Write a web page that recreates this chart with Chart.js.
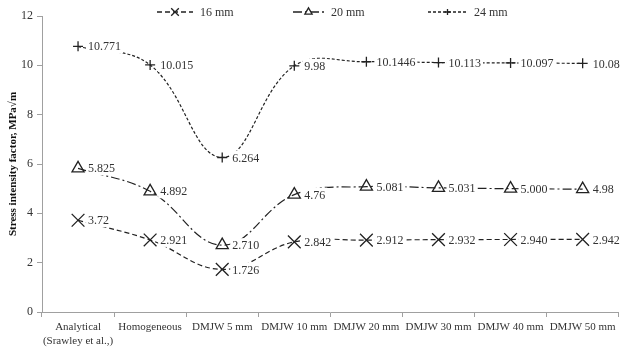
<!DOCTYPE html>
<html lang="en">
<head>
<meta charset="UTF-8">
<title>Stress intensity factor</title>
<style>
  html, body { margin: 0; padding: 0; background: #fff; }
  #wrap { width: 629px; height: 350px; }
</style>
</head>
<body>
<div id="wrap"><canvas id="chart" width="629" height="350"></canvas></div>

<script src="https://cdn.jsdelivr.net/npm/chart.js@4.4.7/dist/chart.umd.min.js"></script>
<script>
// categories and values (strings keep the printed label format)
const categories = [
    ['Analytical', '(Srawley et al.,)'], 'Homogeneous', 'DMJW 5 mm', 'DMJW 10 mm',
    'DMJW 20 mm', 'DMJW 30 mm', 'DMJW 40 mm', 'DMJW 50 mm'
];
const k16 = ['3.72', '2.921', '1.726', '2.842', '2.912', '2.932', '2.940', '2.942'];
const k20 = ['5.825', '4.892', '2.710', '4.76', '5.081', '5.031', '5.000', '4.98'];
const k24 = ['10.771', '10.015', '6.264', '9.98', '10.1446', '10.113', '10.097', '10.08'];
const seriesNames = ['16 mm', '20 mm', '24 mm'];
const yTicks = [0, 2, 4, 6, 8, 10, 12];

const FONT = 'Liberation Serif, Times New Roman, serif';
const TEXT = '#333333';
const AXIS = '#a0a0a0';

// data labels with white background, drawn right of each point
const pointLabels = {
    id: 'pointLabels',
    afterDatasetsDraw(chart) {
        const ctx = chart.ctx;
        ctx.save();
        ctx.font = '12px ' + FONT;
        ctx.textBaseline = 'middle';
        chart.data.datasets.forEach((ds, i) => {
            chart.getDatasetMeta(i).data.forEach((pt, j) => {
                const txt = ds.labelText[j];
                const x = pt.x + 10;
                const w = ctx.measureText(txt).width;
                ctx.fillStyle = '#fff';
                ctx.fillRect(x - 2, pt.y - 7, w + 4, 14);
                ctx.fillStyle = TEXT;
                ctx.fillText(txt, x, pt.y + 1);
            });
        });
        ctx.restore();
    }
};

// legend across the top, as in the figure
const topLegend = {
    id: 'topLegend',
    afterDraw(chart) {
        const ctx = chart.ctx;
        const spots = [[157, 193], [293, 324], [428, 467]];
        const y = 12;
        ctx.save();
        chart.data.datasets.forEach((ds, i) => {
            const [a, b] = spots[i];
            ctx.strokeStyle = '#222';
            ctx.lineWidth = 1.3;
            ctx.setLineDash(ds.borderDash);
            ctx.beginPath();
            ctx.moveTo(a, y);
            ctx.lineTo(b, y);
            ctx.stroke();
            ctx.setLineDash([]);
            ctx.fillStyle = '#fff';
            Chart.helpers.drawPoint(ctx, {
                pointStyle: ds.pointStyle, radius: ds.pointRadius * 0.6, borderWidth: 1.3
            }, (a + b) / 2, y);
            ctx.fillStyle = TEXT;
            ctx.font = '12px ' + FONT;
            ctx.textBaseline = 'middle';
            ctx.fillText(ds.label, b + 7, y + 1);
        });
        ctx.restore();
    }
};

function series(name, vals, dash, style, radius) {
    return {
        label: name,
        data: vals.map(Number),
        labelText: vals,
        borderColor: '#222',
        borderWidth: 1.2,
        borderDash: dash,
        tension: 0.4,
        pointStyle: style,
        pointRadius: radius,
        pointBorderWidth: 1.3,
        pointBorderColor: '#222',
        pointBackgroundColor: 'rgba(255,255,255,0)'
    };
}

new Chart(document.getElementById('chart'), {
    type: 'line',
    data: {
        labels: categories,
        datasets: [
            series(seriesNames[0], k16, [5, 3], 'crossRot', 9),
            series(seriesNames[1], k20, [9, 3, 2, 3], 'triangle', 7),
            series(seriesNames[2], k24, [3, 2], 'cross', 5)
        ]
    },
    options: {
        responsive: false,
        animation: false,
        layout: { padding: { top: 16, right: 5, left: 0, bottom: 0 } },
        plugins: {
            legend: { display: false },
            tooltip: { enabled: false }
        },
        scales: {
            x: {
                offset: true,
                grid: { display: true, drawOnChartArea: false, offset: true, tickLength: 5, color: AXIS },
                border: { color: AXIS },
                ticks: { color: TEXT, font: { family: FONT, size: 11 }, maxRotation: 0, autoSkip: false, padding: 4 },
                afterFit(s) { s.height = 38; }
            },
            y: {
                min: 0,
                max: 12,
                afterBuildTicks(s) { s.ticks = yTicks.map(v => ({ value: v })); },
                grid: { display: true, drawOnChartArea: false, tickLength: 5, color: AXIS },
                border: { color: AXIS },
                ticks: { color: TEXT, font: { family: FONT, size: 12 }, padding: 4 },
                title: {
                    display: true,
                    text: 'Stress intensity factor, MPa√m',
                    color: '#111',
                    font: { family: FONT, size: 11, weight: 'bold' },
                    padding: { top: 7, bottom: 0 }
                },
                afterFit(s) { s.width = 42; }
            }
        }
    },
    plugins: [pointLabels, topLegend]
});
</script>
</body>
</html>
